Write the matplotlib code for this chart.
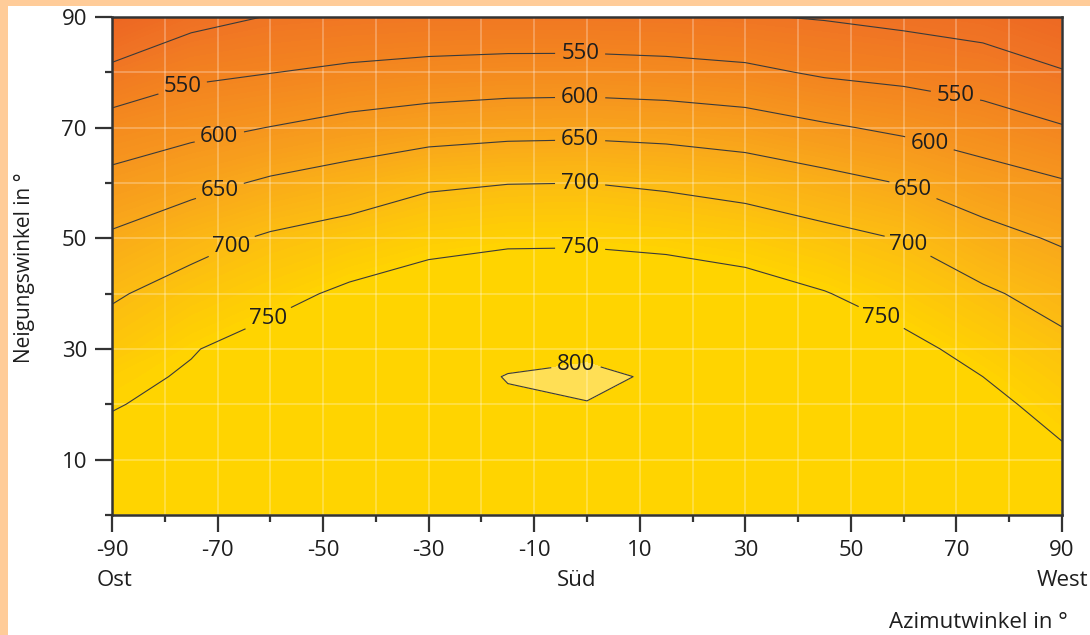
import matplotlib
matplotlib.use('Agg')
import matplotlib.pyplot as plt
import numpy as np
from matplotlib.colors import LinearSegmentedColormap
from matplotlib.patches import Rectangle

plt.rcParams['font.family'] = ['Open Sans', 'DejaVu Sans']
plt.rcParams['axes.unicode_minus'] = False

# Azimut (Ost = -90, Süd = 0, West = 90) und Neigung in Grad
azimuth = [-90, -75, -60, -45, -30, -15, 0, 15, 30, 45, 60, 75, 90]
tilt = [0, 10, 20, 25, 30, 40, 50, 60, 70, 80, 90]

# Einstrahlung, eine Zeile pro Neigungswinkel
irr = [
    [765, 765, 765, 765, 765, 765, 765, 765, 765, 765, 765, 765, 765],
    [760, 762, 768, 773, 779, 783, 785, 782, 776, 770, 767, 763, 757],
    [748.5, 757, 769, 778, 788, 797, 799, 792, 782, 772, 767, 761, 736],
    [740, 754, 769, 776, 789, 801, 807, 795, 783, 770, 765, 750, 724],
    [721, 747.7, 767, 770, 787, 792, 793, 788, 780, 766, 762, 736, 712],
    [695, 718, 737, 758, 774, 784, 784, 779, 769, 752, 730, 707, 682],
    [657, 684, 706, 720, 735, 742, 743, 738, 729, 714, 698, 667, 644],
    [614, 635, 657, 673, 693, 699, 700, 693, 683, 666, 648, 622, 604],
    [571, 587, 601, 616, 627, 634, 636, 632, 623, 606, 591, 574, 553],
    [512, 540, 549, 559, 566, 570, 571, 567, 560, 544, 536, 525, 503],
    [445, 484, 502, 507, 510, 511, 510, 508, 503, 497, 488, 478, 455],
]

line_levels = [550, 600, 650, 700, 750, 800]
x_ticks = [-90, -70, -50, -30, -10, 10, 30, 50, 70, 90]
y_ticks = [10, 30, 50, 70, 90]

# label spots (azimut, neigung)
label_pos = [(-76.7, 77.5), (-69.7, 68.5), (-69.9, 59.6), (-68, 50), (-60.6, 36),
             (-1.3, 83.1), (-1.3, 75.5), (-1.3, 67.8), (-1.3, 60.2), (-1.3, 48.4),
             (-2.1, 27.6),
             (69.7, 75.2), (65, 67.6), (62, 59.3), (61.2, 49.5), (55.9, 36)]

Z = np.array(irr)

fig = plt.figure(figsize=(10.9, 6.35), dpi=100, facecolor='#FFCC99')
fig.add_artist(Rectangle((8 / 1090, 0), 1, 1 - 6 / 635, transform=fig.transFigure,
                         facecolor='white', edgecolor='none', zorder=-1))
ax = fig.add_axes([112 / 1090, 1 - 515 / 635, 950 / 1090, 498 / 635])

stops = [(440, '#EC6422'), (500, '#F07424'), (550, '#F3841F'), (600, '#F6951E'),
         (650, '#F9A81A'), (700, '#FCBC12'), (750, '#FFD400')]
vmin, vmax = 440, 750
cmap = LinearSegmentedColormap.from_list(
    'sun', [((v - vmin) / (vmax - vmin), c) for v, c in stops])
cmap.set_over('#FFD400')

ax.contourf(azimuth, tilt, Z, levels=np.linspace(vmin, vmax, 63), cmap=cmap,
            extend='max', antialiased=False)
ax.contourf(azimuth, tilt, Z, levels=[800, 900], colors=['#FFDF55'])

ax.contour(azimuth, tilt, Z, levels=[500], colors='#3a3a3a', linewidths=0.8)
cs = ax.contour(azimuth, tilt, Z, levels=line_levels, colors='#3a3a3a', linewidths=0.8)
labels = ax.clabel(cs, fmt='%d', fontsize=16, inline=True, inline_spacing=6,
                   manual=label_pos, colors='#1e1e1e')
for t in labels:
    t.set_rotation(0)

ax.set_xlim(-90, 90)
ax.set_ylim(0, 90)
ax.set_xticks(x_ticks)
ax.set_xticks(range(-80, 81, 20), minor=True)
ax.set_yticks(y_ticks)
ax.set_yticks(range(0, 81, 20), minor=True)
ax.tick_params(which='major', length=12, width=1.6, color='#333333',
               labelsize=16, labelcolor='#1e1e1e', pad=6)
ax.tick_params(which='minor', length=5, width=1.6, color='#333333')
ax.grid(which='both', color='white', alpha=0.3, lw=1.2)
for s in ax.spines.values():
    s.set_linewidth(1.8)
    s.set_color('#333333')

fig.text(97 / 1090, 1 - 580 / 635, 'Ost', ha='left', va='center', fontsize=16, color='#1e1e1e')
fig.text(577 / 1090, 1 - 580 / 635, 'Süd', ha='center', va='center', fontsize=16, color='#1e1e1e')
fig.text(1088 / 1090, 1 - 580 / 635, 'West', ha='right', va='center', fontsize=16, color='#1e1e1e')
fig.text(1068 / 1090, 1 - 622 / 635, 'Azimutwinkel in °', ha='right', va='center',
         fontsize=16, color='#1e1e1e')
fig.text(25 / 1090, 1 - 268 / 635, 'Neigungswinkel in °', ha='center', va='center',
         rotation=90, fontsize=15, color='#1e1e1e')

fig.savefig('out.png', dpi=100, facecolor=fig.get_facecolor())
